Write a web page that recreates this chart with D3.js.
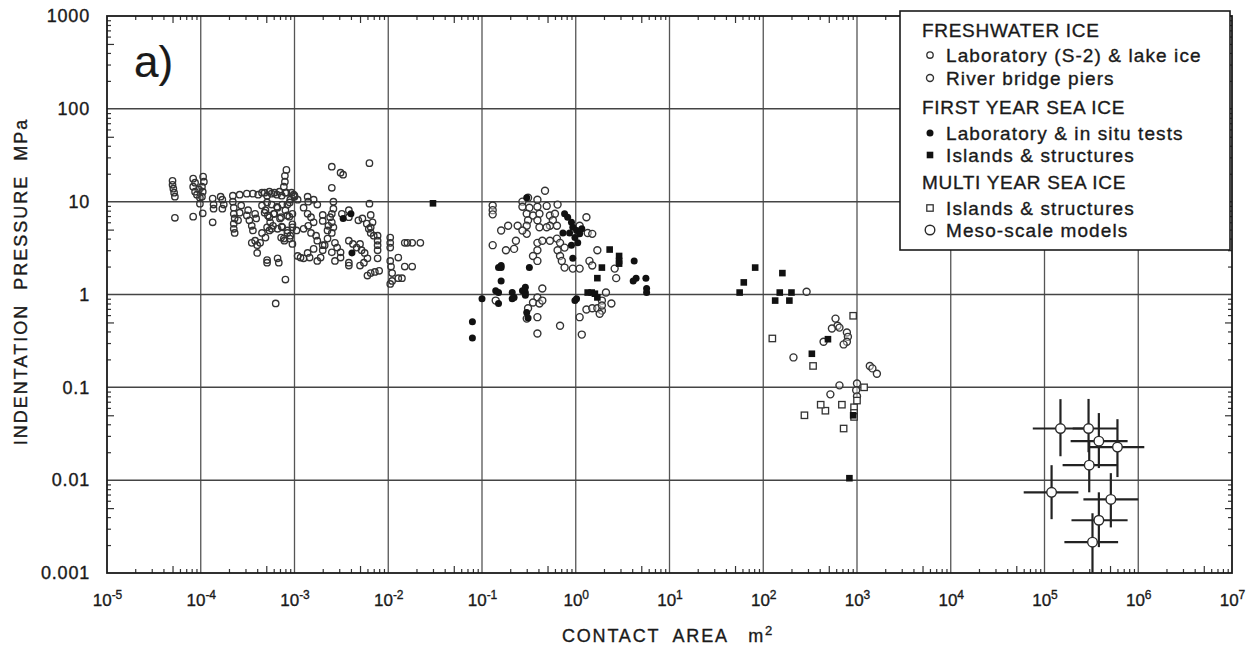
<!DOCTYPE html>
<html>
<head>
<meta charset="utf-8">
<script src="https://cdn.jsdelivr.net/npm/d3@7"></script>
<style>
  body { margin: 0; background: #fff; }
  svg { display: block; font-family: "Liberation Sans", Arial, Helvetica, sans-serif; }
  svg text { stroke: #1a1a1a; stroke-width: 0.35px; }
</style>
</head>
<body>
<svg id="chart"></svg>
<script>
// decades shown on the axes
const xExponents = [-5, -4, -3, -2, -1, 0, 1, 2, 3, 4, 5, 6, 7];
const yTickLabels = ["0.001", "0.01", "0.1", "1", "10", "100", "1000"];

// [contact area m2, pressure MPa]
const freshLab = [
  [5e-5,16.8],[5e-5,15.2],[5.1e-5,13.8],[5.2e-5,12.5],[5.3e-5,11.3],[5.3e-5,6.7],
  [8.3e-5,17.7],[8.7e-5,16],[8.3e-5,14.5],[8.7e-5,12.8],[9.1e-5,11.9],[9.8e-5,11],[1.06e-4,18.6],[1.08e-4,16.4],
  [1.03e-4,14.5],[1.05e-4,12.8],[1.03e-4,11.3],[9.8e-5,9.5],[8.3e-5,6.9],[1.05e-4,7.5],[9.6e-5,13.5],
  [1.34e-4,10.8],[1.37e-4,9.3],[1.37e-4,8.4],[1.34e-4,6.0],[1.63e-4,11.3],[1.7e-4,10.5],[1.76e-4,9.3],[1.7e-4,8.4],
  [2.2e-4,11.6],[2.2e-4,10],[2.25e-4,8.6],[2.25e-4,7.4],[2.3e-4,6.6],[2.25e-4,5.8],[2.25e-4,5.1],[2.3e-4,4.6],
  [2.6e-4,11.9],[2.7e-4,9.1],[2.6e-4,7.6],[2.5e-4,6.3],
  [3.1e-4,12.2],[3.6e-4,12.2],[4.1e-4,11.9],[4.5e-4,12.5],[5.1e-4,11.6],[5.7e-4,12.2],[6.5e-4,11.9],[7.3e-4,11.6],
  [3.2e-4,8.1],[3.1e-4,7.1],[3.3e-4,6.3],[3.8e-4,7.4],[3.9e-4,6.6],[3.8e-4,3.8],[4e-4,3.4],[4e-4,2.8],[5.1e-4,2.2],
  [5.1e-4,2.35],[6.6e-4,2.45],[6.8e-4,2.2],[8e-4,1.45],[6.3e-4,0.8],
  [4.5e-4,9.1],[4.9e-4,8.1],[5.2e-4,7.1],[5.5e-4,6.0],[5.7e-4,5.1],[6e-4,7.4],[6.6e-4,8.6],[7e-4,6.6],[7.3e-4,5.4],
  [8e-4,8.1],[8.4e-4,9.3],[8.8e-4,6.9],[9.5e-4,5.7],
  [8.2e-4,22],[7.9e-4,19],[7.9e-4,16.4],[7.7e-4,14.5],[8e-4,12.5],[9e-4,10.5],[1e-3,11.6],
  [8.4e-4,4.6],[7.7e-4,4.0],[9e-4,4.3],[1.05e-3,4.9],[4.5e-4,4.6],[4.9e-4,4.1],
  [3.5e-4,3.6],[4.3e-4,3.6],[3.5e-4,5.5],[3.6e-4,4.9],
  [4.8e-4,12.5],[5.4e-4,12.8],[6.1e-4,12.5],[6.9e-4,12.8],[8.2e-4,12.5],[9.3e-4,12.5],[1.0e-3,11.3],
  [5.1e-4,9.8],[5.7e-4,9.3],[6.5e-4,8.8],[7.4e-4,9.3],[8.9e-4,9.8],
  [4.8e-4,7.6],[5.4e-4,6.8],[6.1e-4,7.4],[7.2e-4,6.8],[8.4e-4,7.1],[9.5e-4,7.4],
  [5.1e-4,5.3],[5.4e-4,4.9],[5.9e-4,5.5],[6.6e-4,5.1],[7.4e-4,5.3],[8.4e-4,4.9],[9.5e-4,5.3],
  [7.2e-4,4.1],[7.8e-4,3.8],[8.9e-4,4.0],[9.5e-4,3.5],
  [2.5e-3,23.8],[3.1e-3,20.5],[3.3e-3,19.5],[6.3e-3,26],[2.5e-3,14.1],[2.6e-3,10],[2.6e-3,8.4],[2.5e-3,7.4],[6.3e-3,9.5],
  [9.8e-4,11.9],[1.08e-3,10.5],[1.25e-3,8.6],[1.38e-3,7.4],[1.5e-3,6.8],[1.6e-3,6.0],[1.4e-3,5.5],[1.25e-3,5.1],
  [1.5e-3,4.6],[1.7e-3,4.3],[1.75e-3,3.8],[2e-3,3.4],[1.6e-3,3.1],[1.38e-3,2.8],[1.16e-3,2.5],[1.9e-3,2.5],
  [1.75e-3,2.3],[2e-3,3.0],[2.25e-3,4.9],[2.3e-3,5.5],[2e-3,6.2],[2e-3,7.2],[2.4e-3,6.8],[2.5e-3,6.0],[2.6e-3,5.3],
  [2.5e-3,4.6],[2.25e-3,4.0],[2.1e-3,3.4],
  [1.38e-3,11.3],[1.4e-3,10],[1.6e-3,10.5],[1.75e-3,9.3],[3.2e-3,7.4],[3.8e-3,8.1],[3.8e-3,6.8],
  [4.8e-3,6.3],[5.3e-3,6.6],[5.9e-3,5.8],[6.2e-3,5.1],
  [2.7e-3,3.6],[2.85e-3,3.2],[3.1e-3,2.85],[1.08e-3,2.6],[1.25e-3,2.45],[1.45e-3,2.5],
  [3.8e-3,3.8],[4.2e-3,3.5],[4.6e-3,3.2],[5e-3,3.5],[5.2e-3,3.0],[5.6e-3,2.8],[6e-3,2.45],[5.5e-3,2.2],[5e-3,2.05],
  [3.8e-3,2.2],[3.8e-3,2.05],[3.1e-3,2.5],[2.5e-3,2.85],[2.7e-3,2.3],
  [6.5e-3,7.2],[6.8e-3,6.0],[6.5e-3,5.3],[6.5e-3,4.6],[7e-3,4.3],[7.7e-3,4.3],[7.7e-3,3.8],[7.7e-3,3.4],[7.7e-3,3.0],
  [7.7e-3,2.45],[6e-3,1.6],[6.5e-3,1.7],[7.2e-3,1.75],[8e-3,1.8],
  [1.05e-2,4.1],[1.05e-2,3.6],[1.05e-2,3.2],[1.05e-2,2.3],[1.07e-2,2.0],[1.1e-2,1.7],[1.1e-2,1.4],[1.05e-2,1.3],
  [1.28e-2,2.5],[1.28e-2,1.5],[1.4e-2,1.5],[1.5e-2,2.0],[1.8e-2,2.0],[1.5e-2,3.6],[1.6e-2,3.6],[1.8e-2,3.6],[2.2e-2,3.6]
];

const riverPiers = [
  [0.47,13.1],[0.27,10],[0.31,11],[0.39,10.5],[0.13,9.1],[0.13,8.1],[0.13,7.3],
  [0.27,8.8],[0.32,8.6],[0.39,8.8],[0.49,9.0],[0.64,9.3],[0.3,7.4],[0.35,7.1],[0.41,7.4],[0.53,7.1],[0.6,7.4],
  [0.31,6.3],[0.39,6.3],[0.57,6.3],[0.53,5.5],[0.63,5.5],[0.19,5.5],[0.24,5.5],[0.3,5.5],[0.16,4.9],[0.41,5.3],
  [0.49,5.3],[0.3,4.5],[0.27,4.9],[1.3,6.8],[1.1,5.5],[1.34,4.6],[1.5,4.5],
  [0.23,3.8],[0.13,3.4],[0.18,3.0],[0.22,3.1],[0.39,3.6],[0.44,3.8],[0.53,3.8],[0.63,4.0],[0.68,3.6],[0.76,3.2],
  [0.39,3.0],[0.35,2.6],[0.39,2.3],[0.64,3.0],[0.68,2.6],[0.71,2.3],[0.76,1.95],[0.93,1.9],[1.1,1.9],
  [1.4,2.3],[1.5,2.05],[1.7,3.0],[2.6,1.9],[2.7,1.5],
  [0.44,1.16],[0.39,0.93],[0.35,0.82],[0.41,0.8],[0.44,0.86],[0.14,0.86],[0.31,0.71],[0.3,0.55],[0.39,0.57],
  [0.68,0.46],[0.39,0.38],[1.16,0.37],[1.1,0.57],[1.3,0.69],[1.5,0.71],[1.7,0.71],[1.9,0.67],[1.8,0.62],
  [2.1,1.05],[2.4,0.8],[1.9,0.86],[1.9,0.76],
  [290,1.07],[590,0.55],[620,0.46],[650,0.44],[540,0.43],[780,0.39],[800,0.35],[780,0.31],[720,0.29],
  [440,0.31],[210,0.21],[520,0.084],[650,0.105],[1000,0.11],[1370,0.17],[1460,0.16],[1630,0.14],[980,0.093],[1000,0.08]
];

const firstYearLab = [
  [3.3e-3,6.6],[4e-3,7.4],[4.1e-3,2.8],
  [0.3,11],[0.76,7.4],[0.82,6.8],[0.9,6.0],[0.93,5.3],[1.02,4.9],[1.1,4.5],[1.16,5.1],[0.86,4.6],[0.98,4.1],
  [0.9,3.4],[1.05,3.6],[0.93,2.45],[0.73,4.6],
  [0.32,1.95],[0.16,1.95],[0.15,1.95],[0.16,2.05],[0.16,1.4],[0.15,1.05],[0.1,0.9],[0.15,0.8],[0.14,1.1],
  [0.21,1.05],[0.21,0.9],[0.22,0.93],[0.27,1.1],[0.29,1.2],[0.29,1.05],[0.29,0.98],[0.3,0.64],[0.31,0.56],
  [0.98,0.86],[1.02,0.9],[0.079,0.51],[0.079,0.34],
  [4.2,2.3],[4.4,1.5],[4.1,1.4],[5.6,1.5],[5.7,1.16],[5.7,1.05]
];

const firstYearIslands = [
  [3.0e-2,9.6],[2.3,3.05],[2.9,2.6],[2.9,2.3],[2.9,2.15],[1.9,1.95],[1.7,1.5],[1.34,1.05],[1.48,1.05],[1.6,1.02],[1.7,0.93],
  [82,1.95],[62,1.35],[56,1.05],[160,1.7],[150,1.05],[200,1.05],[134,0.86],[190,0.86],[490,0.33],[330,0.23],
  [910,0.05],[830,0.0105]
];

const multiYearIslands = [
  [125,0.336],[910,0.59],[340,0.17],[275,0.05],[460,0.056],[410,0.065],[690,0.065],[720,0.036],
  [930,0.061],[930,0.053],[930,0.048],[1000,0.072],[1190,0.1]
];

// meso-scale models: area, pressure, area range, pressure range
const mesoArea   = [1.48e5, 2.95e5, 3.8e5, 6.0e5, 3.0e5, 1.19e5, 5.1e5, 3.8e5, 3.25e5];
const mesoPress  = [0.036, 0.036, 0.0263, 0.0227, 0.0145, 0.0074, 0.0062, 0.0037, 0.00215];
const mesoAreaLo = [7.5e4, 2.0e5, 1.9e5, 2.95e5, 1.56e5, 6.0e4, 2.6e5, 1.94e5, 1.63e5];
const mesoAreaHi = [2.7e5, 6.0e5, 7.7e5, 1.16e6, 6.0e5, 2.3e5, 1.0e6, 7.7e5, 6.1e5];
const mesoPressLo = [0.0181, 0.02, 0.0135, 0.0108, 0.0074, 0.0038, 0.0031, 0.0019, 0.001];
const mesoPressHi = [0.0746, 0.075, 0.0528, 0.0454, 0.027, 0.0145, 0.0119, 0.0074, 0.0044];

const legendRows = [
  { text: "FRESHWATER ICE", head: true },
  { text: "Laboratory (S-2) & lake ice", sym: "lab" },
  { text: "River bridge piers", sym: "pier" },
  { text: "FIRST YEAR SEA ICE", head: true },
  { text: "Laboratory & in situ tests", sym: "fyLab" },
  { text: "Islands & structures", sym: "fyIsl" },
  { text: "MULTI YEAR SEA ICE", head: true },
  { text: "Islands & structures", sym: "myIsl" },
  { text: "Meso-scale models", sym: "meso" }
];

const width = 1256, height = 648;
const plotL = 107, plotR = 1232, plotT = 16, plotB = 573;
const ink = "#1a1a1a";

const x = d3.scaleLog().domain([1e-5, 1e7]).range([plotL, plotR]);
const y = d3.scaleLog().domain([1e-3, 1e3]).range([plotB, plotT]);

const xDecades = xExponents.map(e => Math.pow(10, e));
const yDecades = yTickLabels.map(Number);

function minors(decades) {
  let out = [];
  decades.slice(0, -1).forEach(d => {
    for (let m = 2; m <= 9; m++) out.push(d * m);
  });
  return out;
}
const xMinor = minors(xDecades), yMinor = minors(yDecades);
const isFive = v => Math.abs(v / Math.pow(10, Math.floor(Math.log10(v) + 1e-9)) - 5) < 0.01;

const svg = d3.select("#chart").attr("width", width).attr("height", height);

// grid
svg.append("g")
  .selectAll("line")
  .data(xDecades.slice(1, -1))
  .join("line")
    .attr("x1", d => x(d)).attr("x2", d => x(d))
    .attr("y1", plotT).attr("y2", plotB)
    .attr("stroke", "#555").attr("stroke-width", 1.3);

svg.append("g")
  .selectAll("line")
  .data(yDecades.slice(1, -1))
  .join("line")
    .attr("x1", plotL).attr("x2", plotR)
    .attr("y1", d => y(d)).attr("y2", d => y(d))
    .attr("stroke", "#444").attr("stroke-width", 1.5);

// minor ticks on all four sides, pointing inward
function tickAxis(axisFn, scale, vals, size, transform) {
  svg.append("g")
    .attr("transform", transform)
    .call(axisFn(scale).tickValues(vals).tickSize(size).tickSizeOuter(0).tickFormat(""))
    .call(g => g.select(".domain").remove())
    .call(g => g.selectAll("line").attr("stroke", "#333").attr("stroke-width", 1.2));
}
const xShort = xMinor.filter(v => !isFive(v)), xLong = xMinor.filter(isFive);
const yShort = yMinor.filter(v => !isFive(v)), yLong = yMinor.filter(isFive);
tickAxis(d3.axisBottom, x, xShort, -4, `translate(0,${plotB})`);
tickAxis(d3.axisBottom, x, xLong, -7, `translate(0,${plotB})`);
tickAxis(d3.axisTop, x, xShort, -4, `translate(0,${plotT})`);
tickAxis(d3.axisTop, x, xLong, -7, `translate(0,${plotT})`);
tickAxis(d3.axisLeft, y, yShort, -4, `translate(${plotL},0)`);
tickAxis(d3.axisLeft, y, yLong, -7, `translate(${plotL},0)`);
tickAxis(d3.axisRight, y, yShort, -4, `translate(${plotR},0)`);
tickAxis(d3.axisRight, y, yLong, -7, `translate(${plotR},0)`);

// frame
svg.append("rect")
  .attr("x", plotL).attr("y", plotT)
  .attr("width", plotR - plotL).attr("height", plotB - plotT)
  .attr("fill", "none").attr("stroke", ink).attr("stroke-width", 1.8);

// y labels
svg.append("g")
  .attr("transform", `translate(${plotL},0)`)
  .call(d3.axisLeft(y).tickValues(yDecades).tickSize(0).tickPadding(17)
    .tickFormat((d, i) => yTickLabels[i]))
  .call(g => g.select(".domain").remove())
  .call(g => g.selectAll("text")
    .attr("fill", ink).style("font-size", "18px").style("letter-spacing", "0.8px")
    .style("font-family", "'Liberation Sans', Arial, sans-serif"));

// x labels 10^n
let xLab = svg.append("g")
  .attr("transform", `translate(0,${plotB})`)
  .call(d3.axisBottom(x).tickValues(xDecades).tickSize(0).tickPadding(21).tickFormat(""))
  .call(g => g.select(".domain").remove());
xLab.selectAll(".tick text")
  .attr("fill", ink)
  .style("font-size", "17px")
  .style("font-family", "'Liberation Sans', Arial, sans-serif")
  .attr("text-anchor", "middle")
  .each(function(d, i) {
    let t = d3.select(this);
    t.append("tspan").text("10");
    t.append("tspan").attr("dy", -7).style("font-size", "12px")
      .text(xExponents[i] < 0 ? "-" + Math.abs(xExponents[i]) : String(xExponents[i]));
  });

// axis titles
svg.append("text")
  .attr("transform", `translate(27,${(plotT + plotB) / 2 - 13}) rotate(-90)`)
  .attr("text-anchor", "middle")
  .attr("fill", ink)
  .style("font-size", "18px")
  .style("letter-spacing", "2px")
  .style("white-space", "pre")
  .text("INDENTATION  PRESSURE  MPa");

let xt = svg.append("text")
  .attr("x", 668).attr("y", 642)
  .attr("text-anchor", "middle")
  .attr("fill", ink)
  .style("font-size", "18px")
  .style("letter-spacing", "1.8px")
  .style("white-space", "pre");
xt.append("tspan").text("CONTACT  AREA   m");
xt.append("tspan").attr("dy", -7).style("font-size", "13px").text("2");

svg.append("text")
  .attr("x", 134).attr("y", 77)
  .attr("fill", ink)
  .style("font-size", "44px")
  .style("stroke-width", "0.2px")
  .text("a)");

// markers
const dots = svg.append("g");

function drawSym(g, kind, cx, cy) {
  if (kind === "lab") {
    g.append("circle").attr("cx", cx).attr("cy", cy).attr("r", 3.2)
      .attr("fill", "none").attr("stroke", "#333").attr("stroke-width", 1.35);
  } else if (kind === "pier") {
    g.append("circle").attr("cx", cx).attr("cy", cy).attr("r", 3.5)
      .attr("fill", "#fff").attr("fill-opacity", 0.4).attr("stroke", "#333").attr("stroke-width", 1.4);
  } else if (kind === "fyLab") {
    g.append("circle").attr("cx", cx).attr("cy", cy).attr("r", 3.5).attr("fill", "#111");
  } else if (kind === "fyIsl") {
    g.append("rect").attr("x", cx - 3.3).attr("y", cy - 3.3).attr("width", 6.6).attr("height", 6.6).attr("fill", "#111");
  } else if (kind === "myIsl") {
    g.append("rect").attr("x", cx - 3.2).attr("y", cy - 3.2).attr("width", 6.4).attr("height", 6.4)
      .attr("fill", "#fff").attr("stroke", "#333").attr("stroke-width", 1.3);
  } else if (kind === "meso") {
    g.append("circle").attr("cx", cx).attr("cy", cy).attr("r", 4.8)
      .attr("fill", "#fff").attr("stroke", "#2a2a2a").attr("stroke-width", 1.4);
  }
}

freshLab.forEach(d => drawSym(dots, "lab", x(d[0]), y(d[1])));
riverPiers.forEach(d => drawSym(dots, "pier", x(d[0]), y(d[1])));
multiYearIslands.forEach(d => drawSym(dots, "myIsl", x(d[0]), y(d[1])));
firstYearLab.forEach(d => drawSym(dots, "fyLab", x(d[0]), y(d[1])));
firstYearIslands.forEach(d => drawSym(dots, "fyIsl", x(d[0]), y(d[1])));

// meso-scale error crosses
const meso = svg.append("g");
mesoArea.forEach((a, i) => {
  meso.append("line")
    .attr("x1", x(mesoAreaLo[i])).attr("x2", x(mesoAreaHi[i]))
    .attr("y1", y(mesoPress[i])).attr("y2", y(mesoPress[i]))
    .attr("stroke", "#222").attr("stroke-width", 2.2);
  meso.append("line")
    .attr("x1", x(a)).attr("x2", x(a))
    .attr("y1", y(mesoPressLo[i])).attr("y2", y(mesoPressHi[i]))
    .attr("stroke", "#222").attr("stroke-width", 2.2);
});
mesoArea.forEach((a, i) => drawSym(meso, "meso", x(a), y(mesoPress[i])));

// legend
const lg = svg.append("g");
lg.append("rect")
  .attr("x", 900).attr("y", 11).attr("width", 330).attr("height", 239)
  .attr("fill", "#fff").attr("stroke", ink).attr("stroke-width", 1.6);

const rowY = [30, 55, 78, 107, 133, 155, 182, 208, 230];
legendRows.forEach((r, i) => {
  if (r.head) {
    lg.append("text").attr("x", 922).attr("y", rowY[i]).attr("dy", "0.36em")
      .attr("fill", ink).style("font-size", "19px").style("letter-spacing", "0.7px").text(r.text);
  } else {
    drawSym(lg, r.sym, 930, rowY[i]);
    lg.append("text").attr("x", 946).attr("y", rowY[i]).attr("dy", "0.36em")
      .attr("fill", ink).style("font-size", "19px").style("letter-spacing", "1.1px").text(r.text);
  }
});
</script>
</body>
</html>
